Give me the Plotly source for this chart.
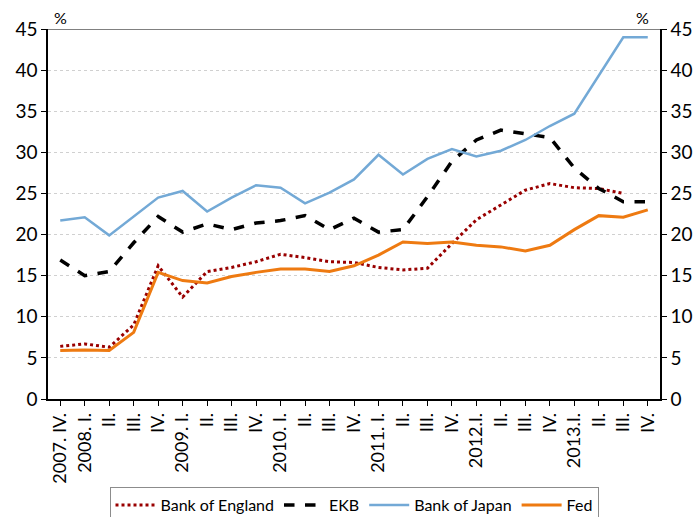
import plotly.graph_objects as go

quarters = ["2007. IV.", "2008. I.", "II.", "III.", "IV.", "2009. I.", "II.", "III.", "IV.",
            "2010. I.", "II.", "III.", "IV.", "2011. I.", "II.", "III.", "IV.",
            "2012.I.", "II.", "III.", "IV.", "2013.I.", "II.", "III.", "IV."]
cats = list(range(len(quarters)))

boe = [6.4, 6.7, 6.3, 9.0, 16.2, 12.4, 15.5, 16.0, 16.7, 17.6, 17.2, 16.7, 16.6,
       16.0, 15.7, 15.9, 18.9, 21.8, 23.6, 25.4, 26.2, 25.7, 25.6, 25.0, None]
ekb = [16.9, 15.0, 15.5, 19.0, 22.2, 20.3, 21.3, 20.6, 21.4, 21.7, 22.3, 20.6, 22.0,
       20.3, 20.6, 24.6, 28.9, 31.5, 32.7, 32.3, 31.8, 28.1, 25.6, 24.0, 24.0]
boj = [21.7, 22.1, 19.9, 22.2, 24.5, 25.3, 22.8, 24.5, 26.0, 25.7, 23.8, 25.1, 26.7,
       29.7, 27.3, 29.2, 30.4, 29.5, 30.2, 31.5, 33.2, 34.7, 39.4, 44.0, 44.0]
fed = [5.9, 5.95, 5.9, 8.1, 15.4, 14.4, 14.1, 14.9, 15.4, 15.8, 15.8, 15.5, 16.2,
       17.5, 19.1, 18.9, 19.1, 18.7, 18.5, 18.0, 18.7, 20.6, 22.3, 22.1, 23.0]

yticks = [0, 5, 10, 15, 20, 25, 30, 35, 40, 45]

FONT = "Lato"

fig = go.Figure()
fig.add_trace(go.Scatter(x=cats, y=boe, name="Bank of England", mode="lines",
                         line=dict(color="#990000", width=3, dash="dot")))
fig.add_trace(go.Scatter(x=cats, y=ekb, name="EKB", mode="lines",
                         line=dict(color="#000000", width=3.5, dash="dash")))
fig.add_trace(go.Scatter(x=cats, y=boj, name="Bank of Japan", mode="lines",
                         line=dict(color="#73A9D6", width=2.5)))
fig.add_trace(go.Scatter(x=cats, y=fed, name="Fed", mode="lines",
                         line=dict(color="#EE7A11", width=3)))
fig.add_trace(go.Scatter(x=cats, y=fed, yaxis="y2", mode="lines", showlegend=False,
                         line=dict(color="rgba(0,0,0,0)", width=0), hoverinfo="skip"))

fig.update_layout(
    width=697, height=517,
    margin=dict(l=48, r=37, t=29, b=118, autoexpand=False),
    paper_bgcolor="white", plot_bgcolor="white",
    font=dict(family=FONT, size=18, color="#000000"),
    showlegend=True,
    legend=dict(orientation="h", x=0.5, xanchor="center", y=-0.238, yanchor="top",
                bordercolor="#8c8c8c", borderwidth=1, font=dict(size=16, family=FONT),
                itemwidth=40, tracegroupgap=0),
    xaxis=dict(
        tickmode="array", tickvals=cats, ticktext=quarters, tickangle=-90,
        range=[-0.5, len(quarters) - 0.5], showgrid=False, zeroline=False,
        showline=True, linecolor="#000000", linewidth=1.5, automargin=False,
        ticks="outside", tickson="boundaries", ticklen=5, tickcolor="#000000",
        tickfont=dict(size=18, family=FONT),
    ),
    yaxis=dict(
        range=[0, 45], tickvals=yticks, showgrid=True, gridcolor="#d0d0d0",
        griddash="dot", gridwidth=1, zeroline=False, automargin=False,
        showline=True, linecolor="#000000", linewidth=1.5,
        ticks="outside", ticklen=5, tickcolor="#000000",
        tickfont=dict(size=19, family=FONT),
    ),
    yaxis2=dict(
        range=[0, 45], tickvals=yticks, overlaying="y", side="right",
        showgrid=False, zeroline=False, automargin=False,
        showline=True, linecolor="#000000", linewidth=1.5,
        ticks="outside", ticklen=5, tickcolor="#000000",
        tickfont=dict(size=19, family=FONT),
    ),
    shapes=[dict(type="line", xref="paper", yref="y", x0=0, x1=1, y0=45, y1=45,
                 line=dict(color="#808080", width=2))],
    annotations=[
        dict(text="%", xref="paper", yref="paper", x=0.021, y=1.0, xanchor="center",
             yanchor="bottom", showarrow=False, font=dict(size=16, family=FONT)),
        dict(text="%", xref="paper", yref="paper", x=0.972, y=1.0, xanchor="center",
             yanchor="bottom", showarrow=False, font=dict(size=16, family=FONT)),
    ],
)

fig.write_html("out.html", config={"displayModeBar": False},
               post_script="document.body.style.margin='0';document.body.style.overflow='hidden';")
